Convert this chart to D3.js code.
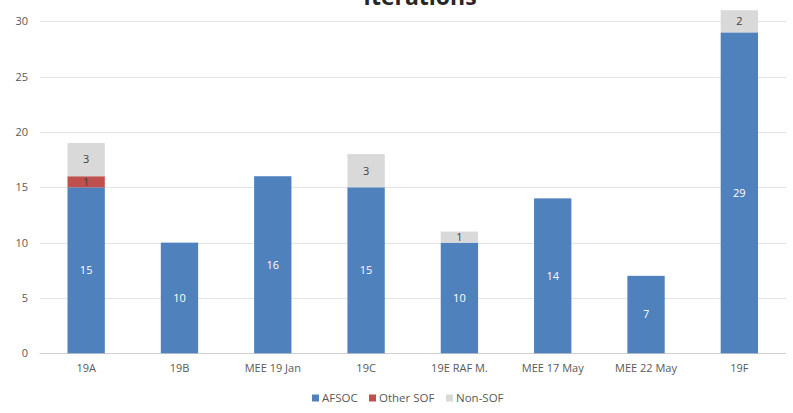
<!DOCTYPE html>
<html>
<head>
<meta charset="utf-8">
<script src="https://cdn.jsdelivr.net/npm/d3@7"></script>
<style>
  html, body { margin: 0; padding: 0; background: #fff; }
  svg { display: block; }
</style>
</head>
<body>
<svg id="chart" width="793" height="413"></svg>
<script>
const categories = ["19A", "19B", "MEE 19 Jan", "19C", "19E RAF M.", "MEE 17 May", "MEE 22 May", "19F"];
const afsoc    = [15, 10, 16, 15, 10, 14, 7, 29];
const otherSof = [1, 0, 0, 0, 0, 0, 0, 0];
const nonSof   = [3, 0, 0, 3, 1, 0, 0, 2];
const seriesNames = ["AFSOC", "Other SOF", "Non-SOF"];
const yTicks = [0, 5, 10, 15, 20, 25, 30];
const title = "Iterations";

(function () {
const colors = ["#4f81bd", "#c0504d", "#d9d9d9"];
const labelColors = ["#ffffff", "#404040", "#404040"];
const font = "'Open Sans', 'Noto Sans', sans-serif";

const svg = d3.select("#chart");
const pl = 39.5, pr = 786, pt = 21.3, pb = 353.3;

const x = d3.scaleBand().domain(categories).range([pl, pr]).paddingInner(0.6).paddingOuter(0.3);
const y = d3.scaleLinear().domain([0, 30]).range([pb, pt]);

// gridlines
svg.append("g").selectAll("line").data(yTicks).join("line")
  .attr("x1", pl).attr("x2", pr)
  .attr("y1", d => Math.round(y(d)) + 0.5).attr("y2", d => Math.round(y(d)) + 0.5)
  .attr("stroke", d => d === 0 ? "#d0d0d0" : "#e3e3e3").attr("stroke-width", 1);

// y axis labels
const yAxis = d3.axisLeft(y).tickValues(yTicks).tickSize(0).tickPadding(0);
const yg = svg.append("g").attr("transform", `translate(28,0)`).call(yAxis);
yg.select(".domain").remove();
yg.selectAll("text").attr("font-family", font).attr("font-size", 11).attr("fill", "#595959");

// x axis labels
const xAxis = d3.axisBottom(x).tickSize(0).tickPadding(0);
const xg = svg.append("g").attr("transform", `translate(0,${pb + 11})`).call(xAxis);
xg.select(".domain").remove();
xg.selectAll("text").attr("font-family", font).attr("font-size", 11).attr("fill", "#595959");

// stacked data
const table = categories.map((c, i) => ({ cat: c, "AFSOC": afsoc[i], "Other SOF": otherSof[i], "Non-SOF": nonSof[i] }));
const stack = d3.stack().keys(seriesNames)(table);

const layers = svg.append("g").selectAll("g").data(stack).join("g")
  .attr("fill", (d, i) => colors[i]);
layers.selectAll("rect").data(d => d.filter(s => s[1] - s[0] > 0)).join("rect")
  .attr("x", d => x(d.data.cat))
  .attr("width", x.bandwidth())
  .attr("y", d => y(d[1]))
  .attr("height", d => y(d[0]) - y(d[1]));

// data labels
stack.forEach((layer, li) => {
  svg.append("g").selectAll("text").data(layer.filter(s => s[1] - s[0] > 0)).join("text")
    .attr("x", d => x(d.data.cat) + x.bandwidth() / 2)
    .attr("y", d => y((d[0] + d[1]) / 2))
    .attr("dy", "0.35em")
    .attr("text-anchor", "middle")
    .attr("font-family", font).attr("font-size", 11)
    .attr("fill", labelColors[li])
    .text(d => d[1] - d[0]);
});

// title
svg.append("text").attr("x", 420).attr("y", 5).attr("text-anchor", "middle")
  .attr("font-family", font).attr("font-weight", "bold").attr("font-size", 23).attr("fill", "#262626")
  .text(title);

// legend
const legendX = [312, 369, 446];
const lg = svg.append("g").selectAll("g").data(seriesNames).join("g")
  .attr("transform", (d, i) => `translate(${legendX[i]},398)`);
lg.append("rect").attr("x", 0).attr("y", -3.5).attr("width", 7).attr("height", 7).attr("fill", (d, i) => colors[i]);
lg.append("text").attr("x", 10).attr("dy", "0.35em")
  .attr("font-family", font).attr("font-size", 11.5).attr("fill", "#595959").text(d => d);
})();
</script>
</body>
</html>
